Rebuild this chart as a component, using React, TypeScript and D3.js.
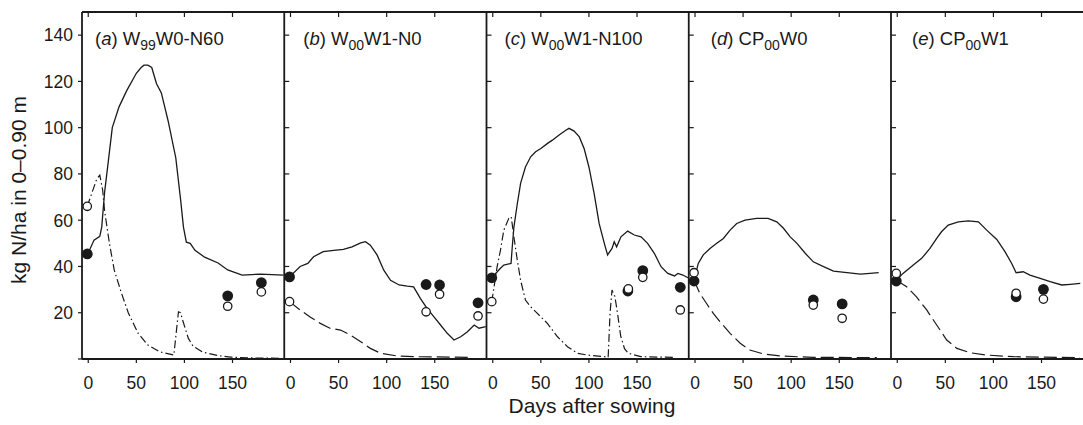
import React from "react";
import * as d3 from "d3";

type Pt = [number, number];

// panel titles: "(a) W99W0-N60" etc, split for the subscript
const panelIds = ["a", "b", "c", "d", "e"];
const namePrefix = ["W", "W", "W", "CP", "CP"];
const nameSub = ["99", "00", "00", "00", "00"];
const nameSuffix = ["W0-N60", "W1-N0", "W1-N100", "W0", "W1"];

const xTicks = [0, 50, 100, 150];
const yTicks = [0, 20, 40, 60, 80, 100, 120, 140];

// solid line (simulated, upper)
const solidA: Pt[] = [[-1, 45], [6, 51.4], [12, 53], [14, 57], [17, 72], [21, 86], [25, 100], [32, 109], [40, 116], [50, 123.5], [55, 126], [58, 127], [62, 127], [66, 126], [71, 119], [76, 115], [83, 103], [91, 87], [96, 69], [99, 57], [102, 50.5], [106, 50], [111, 47], [121, 44], [135, 41.5], [145, 38.5], [160, 36.3], [170, 36.5], [179, 36.7], [203, 36.3]];
const solidB: Pt[] = [[-1, 35.5], [10, 40], [18, 41.3], [24, 44.2], [34, 46.4], [45, 47], [55, 47.4], [64, 48.5], [73, 50.2], [78, 50.7], [83, 49.2], [90, 45], [97, 38.4], [104, 34], [113, 32], [121.5, 31.5], [128, 31.2], [135, 26.2], [142, 21.9], [149, 18.3], [156, 14.7], [163, 11.1], [170, 8.2], [177, 9.6], [184, 11.8], [191, 14.7], [196, 13.3], [203, 14]];
const solidC: Pt[] = [[-1, 35.1], [8, 39.2], [11.5, 40.6], [19, 41.3], [20.3, 48.5], [22, 57], [25.5, 67], [29, 76], [34, 83], [39.4, 87.4], [44.6, 89.6], [50, 91], [57, 93.2], [62, 94.6], [69, 96.8], [76, 98.9], [79.3, 99.7], [84.6, 98.5], [90, 96], [95, 91], [100, 83], [105.4, 71.6], [110.6, 58.6], [116, 50], [119.4, 45], [124, 47.8], [126.3, 50.7], [128.8, 48.5], [133.3, 52.8], [140.3, 55.3], [147.2, 53.6], [154.2, 52.8], [161, 50], [168, 45.7], [175, 39.9], [182, 37], [189, 35.9], [192.5, 37], [197.7, 36.3], [203, 35.1]];
const solidD: Pt[] = [[-1, 34], [3.4, 41.3], [8.6, 45], [15.6, 47.8], [22.6, 50], [29.5, 52.1], [36.5, 55.7], [43.4, 58.6], [52, 60], [64, 60.8], [76, 60.8], [85, 59.3], [92, 56.5], [99, 52.8], [106, 50], [114.6, 45.7], [123, 42], [133.6, 39.9], [144, 38], [158, 37.3], [172, 36.7], [182, 37], [191, 37.3]];
const solidE: Pt[] = [[-1, 34], [6, 37], [16.7, 40.6], [25.4, 43.5], [34, 47.8], [41, 52.1], [46, 55], [53, 57.9], [63.5, 59.3], [74, 59.7], [84.4, 59.3], [93, 55.7], [103.5, 51.7], [112, 46.4], [119, 41.3], [123.6, 37.3], [131, 37.7], [138, 36.3], [148.6, 34.9], [159, 33.4], [171, 32], [180, 32.3], [190.3, 32.7]];

// broken line (lower)
const brokenA: Pt[] = [[-1, 66], [4, 72], [9, 78], [12, 79.5], [15, 73], [17, 64], [22, 50], [27, 38.5], [34.5, 28.5], [41.6, 20], [52, 11], [62, 6], [75, 3], [89, 1.7], [93.8, 20.4], [96, 20], [98, 17], [101, 13], [104, 9], [109, 5.5], [119, 3], [135, 1.5], [148, 0.8], [175, 0.4], [199, 0.3]];
const brokenB: Pt[] = [[-1, 24.8], [10, 21.2], [20, 18.3], [31, 15.4], [41, 13.3], [52, 12.5], [62, 10.4], [73, 7.5], [83, 4.6], [93.5, 2.5], [111, 1.3], [128, 1], [188, 0.7]];
const brokenC: Pt[] = [[-1, 24.8], [4.6, 40], [8, 47], [11.5, 55.7], [16.7, 60.8], [19.2, 61.5], [22, 52.8], [25.5, 42.8], [29, 34], [34, 25.5], [39.4, 22.6], [46.4, 19.7], [56.8, 15.4], [67.3, 9.6], [77.7, 5.3], [88, 2.5], [98.6, 1.7], [116, 1], [120, 0.6], [122, 20], [124, 29.8], [127, 27], [130, 19], [133, 10], [137, 4.5], [141, 2.5], [154, 1], [189, 0.7]];
const brokenD: Pt[] = [[-1, 34], [5, 28.4], [12, 24], [19, 19.7], [26, 16.1], [36.5, 11.1], [47, 6.8], [57, 3.9], [71, 2.2], [88.5, 1.3], [123, 0.7], [189, 0.6]];
const brokenE: Pt[] = [[-1, 34], [9.8, 31.2], [20, 26.9], [30.6, 21.2], [41, 14.7], [51.4, 8.2], [62, 4.6], [75.7, 2.7], [93, 1.7], [121, 1], [190, 0.6]];

// measured points
const filledA: Pt[] = [[-1, 45.4], [145, 27.3], [180, 33]];
const openA: Pt[] = [[-1, 66], [145, 22.8], [180, 29]];
const filledB: Pt[] = [[-1, 35.5], [141, 32.2], [155, 32], [195, 24.3]];
const openB: Pt[] = [[-1, 24.8], [141, 20.4], [155, 28], [195, 18.6]];
const filledC: Pt[] = [[-1, 35.1], [140.5, 29.4], [156, 38.2], [195, 31]];
const openC: Pt[] = [[-1, 24.8], [141, 30.3], [156, 35.3], [195, 21.2]];
const filledD: Pt[] = [[-1, 33.7], [123, 25.5], [153, 23.8]];
const openD: Pt[] = [[-1, 37.3], [123, 23.3], [153, 17.6]];
const filledE: Pt[] = [[-1, 33.7], [123.6, 26.9], [152, 30.1]];
const openE: Pt[] = [[-1, 37], [123.6, 28.4], [152, 25.9]];

const solids = [solidA, solidB, solidC, solidD, solidE];
const brokens = [brokenA, brokenB, brokenC, brokenD, brokenE];
const filleds = [filledA, filledB, filledC, filledD, filledE];
const opens = [openA, openB, openC, openD, openE];

const W = 1083;
const H = 425;
const left = 82;
const panelW = 202.25;
const top = 12;
const bottom = 359;
const ink = "#1a1a1a";
const font = "'Liberation Sans', Arial, Helvetica, sans-serif";
const labelDx = [13, 19, 18, 22, 21];
const dashOf = (i: number) => (i === 0 || i === 2 ? "8,3,1.5,3" : "13,5");

export default function App() {
  const y = d3.scaleLinear().domain([0, 150]).range([bottom, top]);
  const line = (x: d3.ScaleLinear<number, number>) =>
    d3
      .line<Pt>()
      .x((d) => x(d[0]))
      .y((d) => y(d[1]));

  return (
    <svg
      width={W}
      height={H}
      style={{ position: "absolute", left: 0, top: 0, background: "#fff" }}
      fontFamily={font}
    >
      <defs>
        {panelIds.map((id, i) => (
          <clipPath id={`clip-${id}`} key={id}>
            <rect x={left + i * panelW} y={0} width={panelW} height={bottom + 1} />
          </clipPath>
        ))}
      </defs>

      {panelIds.map((id, i) => {
        const x0 = left + i * panelW;
        const x = d3.scaleLinear().domain([-6.5, 203.8]).range([x0, x0 + panelW]);
        const gen = line(x);
        return (
          <g key={id}>
            {/* y ticks */}
            {yTicks.map((t) =>
              i === 0 ? (
                <g key={t}>
                  <line x1={x0 - 4} x2={x0} y1={y(t)} y2={y(t)} stroke={ink} strokeWidth={1.2} />
                  {t > 0 && (
                    <text x={x0 - 9} y={y(t)} dy="0.36em" textAnchor="end" fontSize={17.5} fill={ink}>
                      {t}
                    </text>
                  )}
                </g>
              ) : (
                <line key={t} x1={x0} x2={x0 + 5} y1={y(t)} y2={y(t)} stroke={ink} strokeWidth={1.2} />
              )
            )}
            {/* x ticks */}
            {xTicks.map((t) => (
              <g key={t}>
                <line x1={x(t)} x2={x(t)} y1={bottom} y2={bottom + 4} stroke={ink} strokeWidth={1.2} />
                <line x1={x(t)} x2={x(t)} y1={top} y2={top + 5} stroke={ink} strokeWidth={1.2} />
                <text x={x(t)} y={389} textAnchor="middle" fontSize={17.5} fill={ink}>
                  {t}
                </text>
              </g>
            ))}
            {/* left border of panel */}
            <line x1={x0} x2={x0} y1={top} y2={bottom} stroke={ink} strokeWidth={1.8} />

            <g clipPath={`url(#clip-${id})`}>
              <path d={gen(solids[i]) ?? ""} fill="none" stroke={ink} strokeWidth={1.3} />
              <path
                d={gen(brokens[i]) ?? ""}
                fill="none"
                stroke={ink}
                strokeWidth={1.2}
                strokeDasharray={dashOf(i)}
              />
              {filleds[i].map((d, k) => (
                <circle key={`f${k}`} cx={x(d[0])} cy={y(d[1])} r={5.4} fill={ink} />
              ))}
              {opens[i].map((d, k) => (
                <circle key={`o${k}`} cx={x(d[0])} cy={y(d[1])} r={4.2} fill="#fff" stroke={ink} strokeWidth={1.3} />
              ))}
            </g>

            <text x={x0 + labelDx[i]} y={45} fontSize={18.5} fill={ink}>
              <tspan>(</tspan>
              <tspan fontStyle="italic">{id}</tspan>
              <tspan>) {namePrefix[i]}</tspan>
              <tspan fontSize={14} dy={5}>
                {nameSub[i]}
              </tspan>
              <tspan dy={-5}>{nameSuffix[i]}</tspan>
            </text>
          </g>
        );
      })}

      {/* frame top / bottom and right edge */}
      <line x1={left} x2={left + 5 * panelW} y1={top} y2={top} stroke={ink} strokeWidth={1.8} />
      <line x1={left} x2={left + 5 * panelW} y1={bottom} y2={bottom} stroke={ink} strokeWidth={1.8} />
      <line x1={left + 5 * panelW} x2={left + 5 * panelW} y1={top} y2={bottom} stroke={ink} strokeWidth={1.8} />

      <text x={592} y={413} textAnchor="middle" fontSize={21} fill={ink}>
        Days after sowing
      </text>
      <text transform="translate(26,190) rotate(-90)" textAnchor="middle" fontSize={21} fill={ink}>
        kg N/ha in 0–0.90 m
      </text>
    </svg>
  );
}
